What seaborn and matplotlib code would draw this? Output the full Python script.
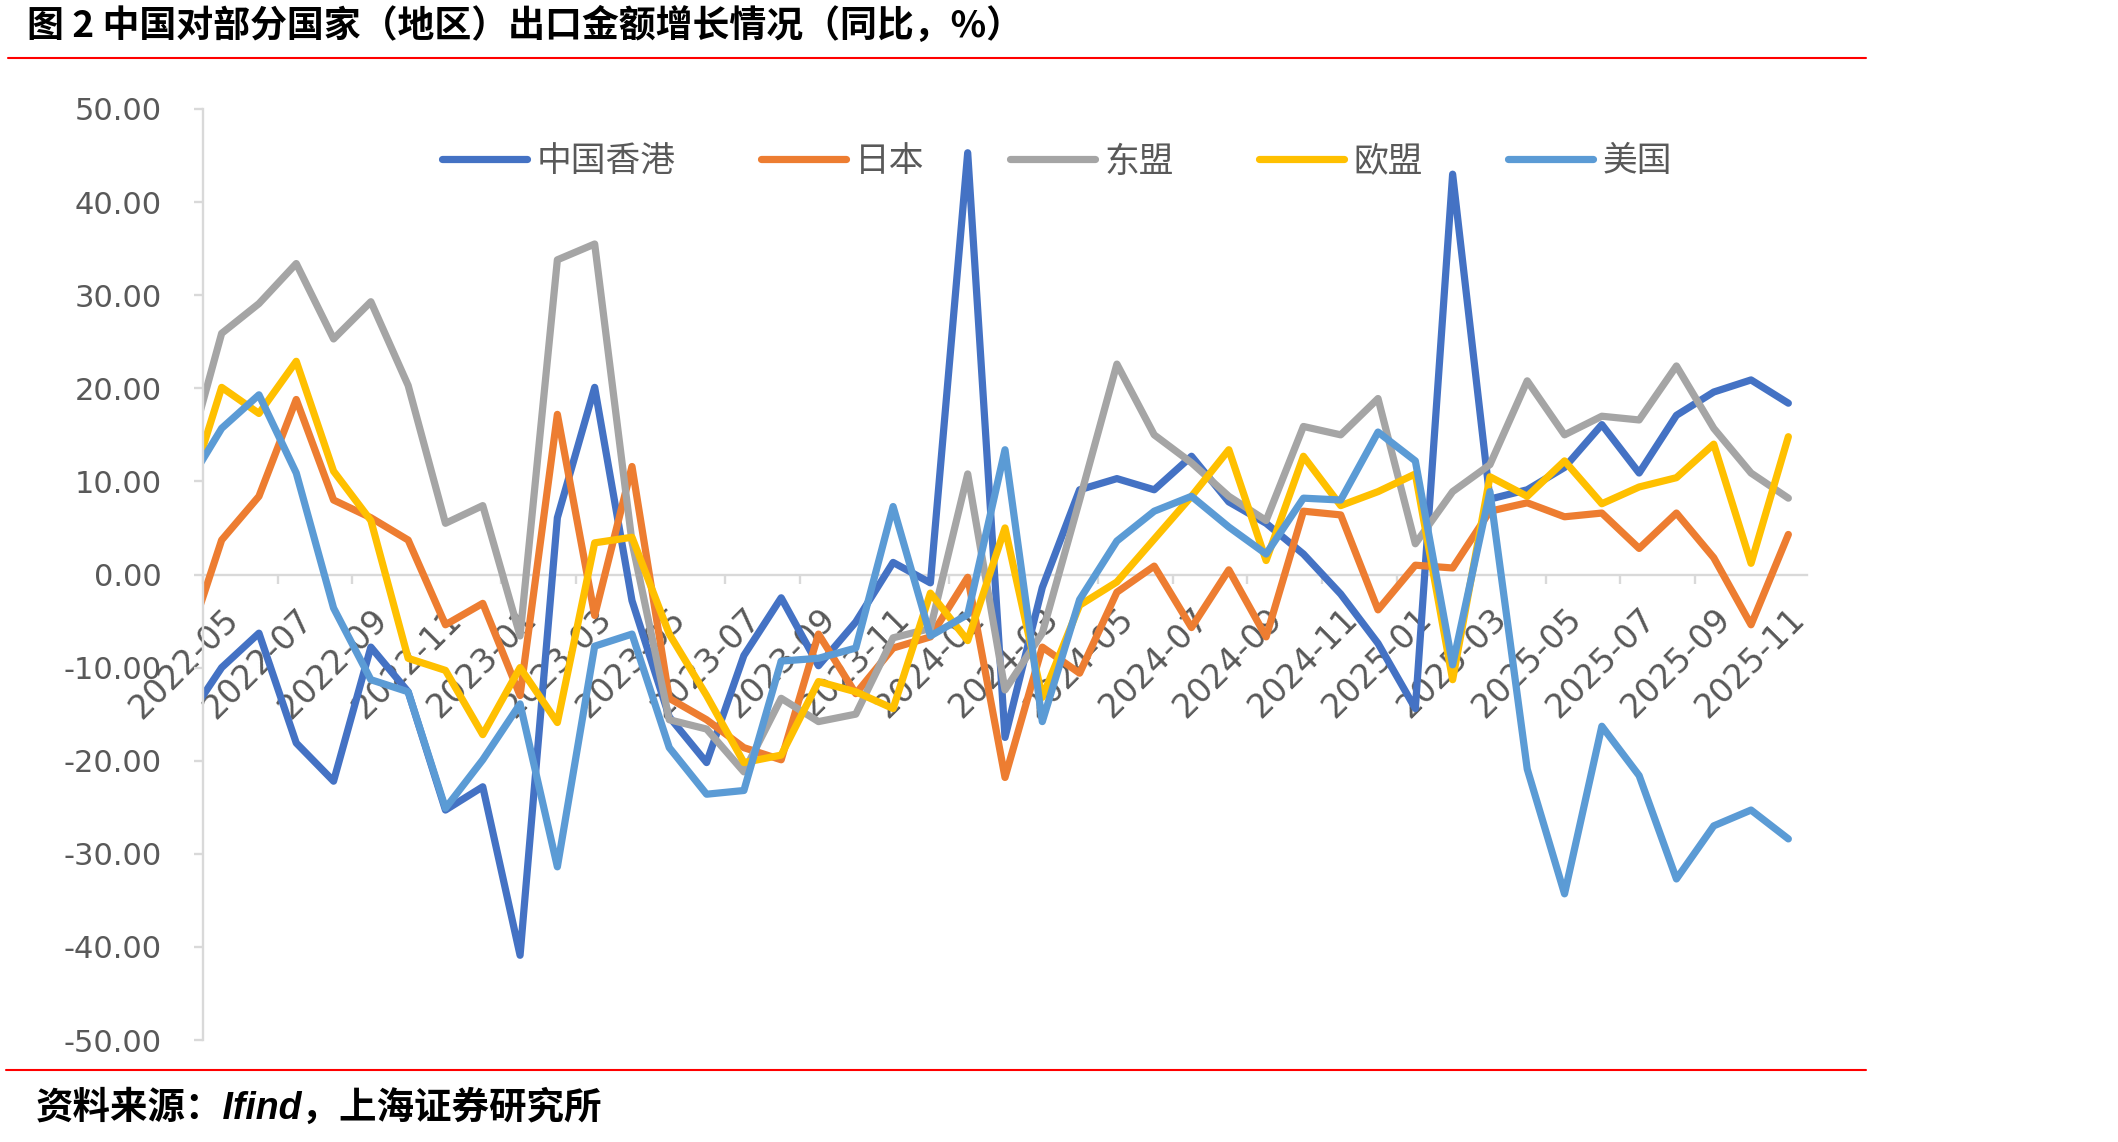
import numpy as np
import pandas as pd
import matplotlib
matplotlib.use("Agg")
import matplotlib.pyplot as plt
import seaborn as sns
from matplotlib.lines import Line2D
from matplotlib.ticker import FuncFormatter

# ---------------- data ----------------
months = [
    "2022-04", "2022-05", "2022-06", "2022-07", "2022-08", "2022-09", "2022-10", "2022-11", "2022-12",
    "2023-01", "2023-02", "2023-03", "2023-04", "2023-05", "2023-06", "2023-07", "2023-08", "2023-09",
    "2023-10", "2023-11", "2023-12", "2024-01", "2024-02", "2024-03", "2024-04", "2024-05", "2024-06",
    "2024-07", "2024-08", "2024-09", "2024-10", "2024-11", "2024-12", "2025-01", "2025-02", "2025-03",
    "2025-04", "2025-05", "2025-06", "2025-07", "2025-08", "2025-09", "2025-10", "2025-11",
]

hong_kong = [-16.0, -10.0, -6.3, -18.1, -22.2, -7.8, -12.6, -25.3, -22.8, -40.9, 6.1, 20.1, -2.8,
             -15.3, -20.2, -8.7, -2.5, -9.8, -5.1, 1.3, -0.9, 45.3, -17.5, -1.4, 9.1, 10.3, 9.1,
             12.7, 7.8, 5.5, 2.2, -2.1, -7.4, -14.4, 43.0, 8.1, 9.1, 11.5, 16.1, 10.9, 17.1, 19.6,
             20.9, 18.4]
japan = [-8.5, 3.7, 8.4, 18.8, 8.0, 6.1, 3.7, -5.4, -3.1, -13.0, 17.2, -4.4, 11.6,
         -13.3, -15.6, -18.6, -19.9, -6.4, -12.8, -7.9, -6.7, -0.3, -21.8, -7.8, -10.6, -1.9, 0.9,
         -5.7, 0.5, -6.7, 6.8, 6.4, -3.8, 1.0, 0.7, 6.8, 7.7, 6.2, 6.6, 2.8, 6.6, 1.8,
         -5.4, 4.3]
asean = [11.3, 25.9, 29.1, 33.4, 25.3, 29.3, 20.3, 5.5, 7.4, -6.6, 33.8, 35.5, 3.5,
         -15.6, -16.6, -21.2, -13.3, -15.8, -15.0, -6.8, -5.8, 10.8, -12.4, -6.3, 8.0, 22.6, 15.0,
         12.0, 8.4, 5.8, 15.9, 15.0, 18.9, 3.3, 8.9, 11.8, 20.8, 15.0, 17.0, 16.6, 22.4, 15.7,
         10.9, 8.2]
eu = [7.3, 20.1, 17.3, 22.9, 11.1, 5.8, -9.0, -10.3, -17.2, -10.0, -15.9, 3.4, 4.0,
      -6.4, -13.0, -20.2, -19.4, -11.5, -12.6, -14.4, -2.0, -7.1, 5.0, -13.2, -3.3, -0.8, 3.8,
      8.4, 13.4, 1.5, 12.7, 7.4, 8.9, 10.8, -11.3, 10.5, 8.4, 12.2, 7.6, 9.4, 10.4, 14.0,
      1.2, 14.8]
usa = [9.1, 15.7, 19.3, 10.9, -3.6, -11.3, -12.6, -25.1, -19.9, -13.9, -31.4, -7.7, -6.4,
       -18.6, -23.6, -23.2, -9.3, -9.0, -7.9, 7.3, -6.6, -4.3, 13.4, -15.8, -2.7, 3.6, 6.8,
       8.4, 5.1, 2.2, 8.2, 8.0, 15.3, 12.2, -9.7, 8.9, -20.9, -34.3, -16.3, -21.6, -32.7, -27.0,
       -25.3, -28.4]

series_names = ["中国香港", "日本", "东盟", "欧盟", "美国"]
series_values = [hong_kong, japan, asean, eu, usa]
colors = ["#4472C4", "#ED7D31", "#A5A5A5", "#FFC000", "#5B9BD5"]

title = "图 2 中国对部分国家（地区）出口金额增长情况（同比，%）"
source = "资料来源：Ifind，上海证券研究所"

# ---------------- figure ----------------
sns.set_theme(style="white")
plt.rcParams["font.family"] = ["DejaVu Sans", "Noto Sans CJK SC"]
plt.rcParams["axes.unicode_minus"] = False

W, H = 2118, 1142
fig = plt.figure(figsize=(W / 100, H / 100), dpi=100)
ax = fig.add_axes([203 / W, 1 - 1040 / H, 1604 / W, 931 / H])

pos = np.arange(len(months))
frames = []
for name, vals in zip(series_names, series_values):
    frames.append(pd.DataFrame({"month": months, "pos": pos, "series": name, "value": vals}))
df = pd.concat(frames, ignore_index=True)

LW = 5.2
sns.lineplot(data=df, x="pos", y="value", hue="series", hue_order=series_names,
             palette=colors, linewidth=LW, estimator=None, sort=False, legend=False, ax=ax,
             solid_capstyle="round", solid_joinstyle="round")

ax.set_xlim(0.5, len(months) - 0.5)
ax.set_ylim(-50, 50)
ax.set_xlabel("")
ax.set_ylabel("")

# spines
grey = "#D9D9D9"
for s in ["top", "right"]:
    ax.spines[s].set_visible(False)
ax.spines["left"].set_color(grey)
ax.spines["left"].set_linewidth(1.7)
ax.spines["bottom"].set_color(grey)
ax.spines["bottom"].set_linewidth(1.7)
ax.spines["bottom"].set_position(("data", 0))
ax.spines["bottom"].set_zorder(0.5)

# x ticks
ax.set_xticks(pos[1::2])
ax.set_xticklabels(months[1::2])
ax.set_xticks(np.arange(0.5, len(months) - 0.5, 2), minor=True)
ax.tick_params(axis="x", which="major", bottom=True, length=0, pad=20, labelsize=24,
               labelcolor="#595959")
ax.tick_params(axis="x", which="minor", bottom=True, length=6.5, width=1.7, color=grey,
               direction="out")
for lbl in ax.get_xticklabels():
    lbl.set_rotation(45)
    lbl.set_ha("right")
    lbl.set_va("top")
    lbl.set_rotation_mode("anchor")

# y ticks
ax.set_yticks(np.arange(-50, 51, 10))
ax.yaxis.set_major_formatter(FuncFormatter(lambda v, p: f"{v:.2f}"))
ax.tick_params(axis="y", which="major", left=True, length=6.5, width=1.7, color=grey,
               direction="out", pad=23, labelsize=22, labelcolor="#595959")

# legend
handles = [Line2D([], [], color=c, lw=LW, solid_capstyle="round") for c in colors]
fig.legend(handles, series_names, loc="center", bbox_to_anchor=(0.499, 1 - 162 / H), ncol=5,
           frameon=False, prop={"family": "Noto Sans CJK SC", "size": 25},
           handlelength=2.45, handletextpad=0.27, columnspacing=2.45, labelcolor="#595959")

# title, rules, source
fig.text(27 / W, 1 - 26 / H, title, ha="left", va="center", fontsize=26.6, fontweight="bold",
         color="black", family=["Noto Sans CJK SC"])
fig.add_artist(Line2D([8 / W, 1866 / W], [1 - 58 / H, 1 - 58 / H], color="#FF0000", lw=1.5,
                      transform=fig.transFigure))
fig.add_artist(Line2D([6 / W, 1866 / W], [1 - 1070 / H, 1 - 1070 / H], color="#FF0000", lw=1.5,
                      transform=fig.transFigure))
fig.text(36 / W, 1 - 1108 / H, source, ha="left", va="center", fontsize=27, fontweight="bold",
         style="italic", color="black", family=["Liberation Sans", "Noto Sans CJK SC"])

fig.savefig("out.png", dpi=100)
